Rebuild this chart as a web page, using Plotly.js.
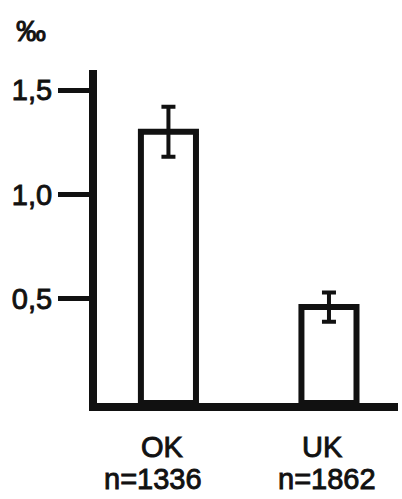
<!DOCTYPE html>
<html>
<head>
<meta charset="utf-8">
<script src="https://cdn.plot.ly/plotly-3.0.1.min.js"></script>
<style>
  html, body { margin: 0; padding: 0; background: #ffffff; }
  #chart { width: 402px; height: 499px; }
  /* heavier lettering for the labels */
  #chart .annotation-text, #chart .ytick text {
    stroke: #111111; stroke-width: 0.9px;
  }
</style>
</head>
<body>
<div id="chart"></div>
<script>
// Groups, their rates (per mille) and error half-widths
const categories = ['OK', 'UK'];
const rates = [1.30, 0.46];
const errors = [0.12, 0.07];
const sampleSizes = ['n=1336', 'n=1862'];

// Y axis ticks, written with decimal commas
const yTickVals = [0.5, 1.0, 1.5];
const yTickText = ['0,5', '1,0', '1,5'];
const unitLabel = '‰';

const INK = '#111111';
const FONT = 'Liberation Sans, Arial, sans-serif';

const xPos = categories.map((_, i) => i);

const trace = {
  type: 'bar',
  x: xPos,
  y: rates,
  width: 0.343,
  marker: { color: '#ffffff', line: { color: INK, width: 6 } },
  error_y: {
    type: 'data',
    array: errors,
    visible: true,
    color: INK,
    thickness: 4,
    width: 7
  },
  hoverinfo: 'skip'
};

const annotations = [];
categories.forEach((c, i) => {
  annotations.push({
    xref: 'x', yref: 'paper', x: xPos[i], y: 0,
    text: c, showarrow: false, xanchor: 'center', yanchor: 'middle',
    xshift: -6, yshift: -44,
    font: { family: FONT, size: 29, color: INK }
  });
  annotations.push({
    xref: 'x', yref: 'paper', x: xPos[i], y: 0,
    text: sampleSizes[i], showarrow: false, xanchor: 'center', yanchor: 'middle',
    xshift: i === 0 ? -15 : -2, yshift: -76,
    font: { family: FONT, size: 29, color: INK }
  });
});
annotations.push({
  xref: 'paper', yref: 'paper', x: 0, y: 1,
  text: unitLabel, showarrow: false, xanchor: 'center', yanchor: 'middle',
  xshift: -66, yshift: 40,
  font: { family: FONT, size: 30, color: INK }
});

const layout = {
  width: 402,
  height: 499,
  margin: { l: 97, r: 4, t: 70, b: 96, pad: 0 },
  paper_bgcolor: '#ffffff',
  plot_bgcolor: '#ffffff',
  showlegend: false,
  bargap: 0,
  xaxis: {
    range: [-0.445, 1.43],
    showline: true, linecolor: INK, linewidth: 8,
    showgrid: false, zeroline: false,
    ticks: '', showticklabels: false,
    fixedrange: true
  },
  yaxis: {
    range: [0, 1.596],
    showline: true, linecolor: INK, linewidth: 8,
    showgrid: false, zeroline: false,
    ticks: 'outside', ticklen: 31, tickwidth: 5, tickcolor: INK,
    tickvals: yTickVals, ticktext: yTickText,
    tickfont: { family: FONT, size: 29, color: INK },
    fixedrange: true
  },
  annotations: annotations
};

Plotly.newPlot('chart', [trace], layout, { displayModeBar: false, staticPlot: true });
</script>
</body>
</html>
